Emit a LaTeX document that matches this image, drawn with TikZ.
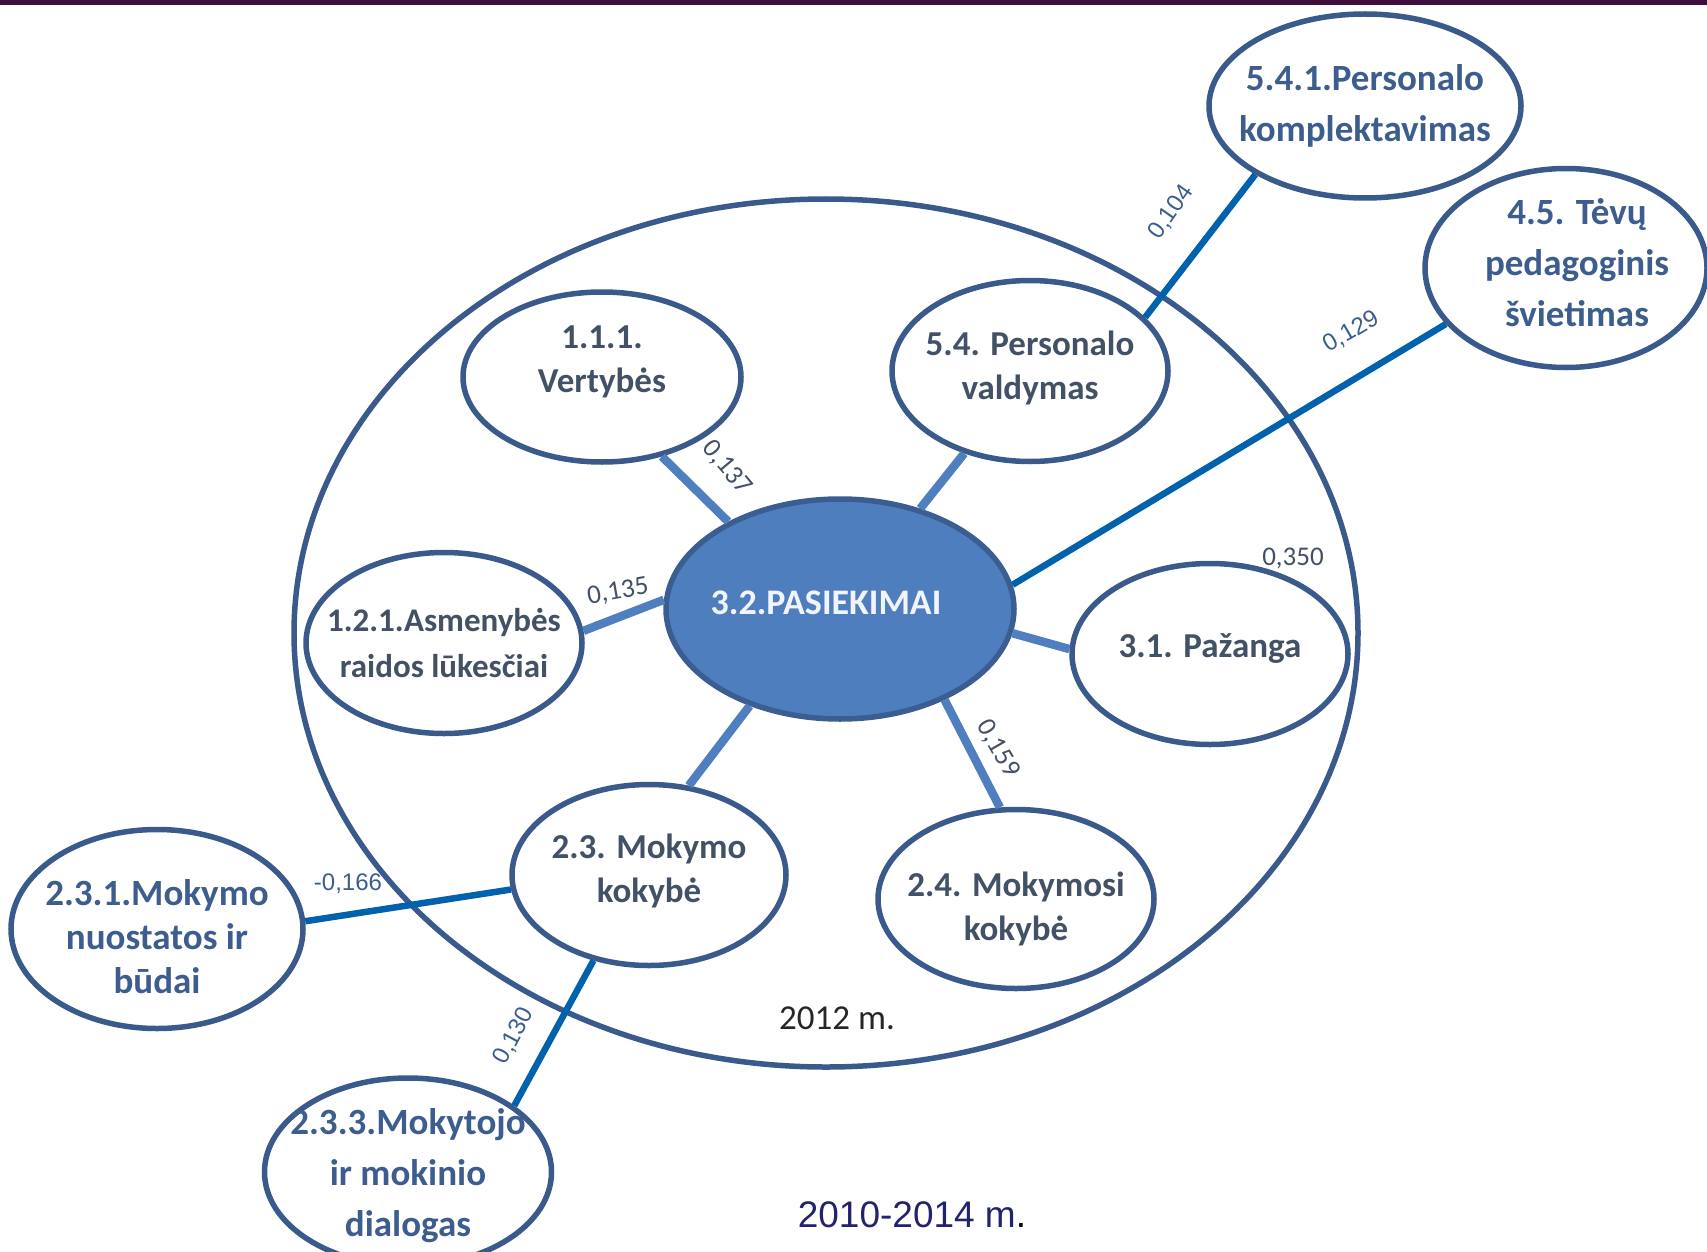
\documentclass[tikz,border=0pt]{standalone}
\usepackage{fontspec}
\setmainfont{Carlito}
\newfontfamily\arialfont{Liberation Sans}
\definecolor{KSborder}{HTML}{3A5A8C}
\definecolor{KSfill}{HTML}{4F7EBE}
\definecolor{KSedge}{HTML}{3B5E92}
\definecolor{KSline}{HTML}{4F7FBF}
\definecolor{KSlink}{HTML}{0062AC}
\definecolor{KSgray}{HTML}{435166}
\definecolor{KSblue}{HTML}{3C5D8E}
\definecolor{KSnavy}{HTML}{22226E}
\definecolor{KSband}{HTML}{3E0D3B}
\usetikzlibrary{shapes.geometric}

\begin{document}
\begin{tikzpicture}[x=1pt,y=-1pt,
  inner/.style={ellipse,draw=KSborder,line width=5.5pt,inner sep=0pt},
  innertext/.style={text=KSgray,font=\bfseries\fontsize{35}{44}\selectfont,align=center},
  outer/.style={ellipse,draw=KSborder,line width=5.5pt,inner sep=0pt},
  outertext/.style={text=KSblue,font=\bfseries\fontsize{37}{51}\selectfont,align=center},
  hub/.style={ellipse,draw=KSedge,fill=KSfill,line width=5.5pt,inner sep=0pt},
  hubtext/.style={text=white!92!KSfill,font=\bfseries\fontsize{36}{44}\selectfont},
  innerlink/.style={KSline,line width=8.5pt},
  outerlink/.style={KSlink,line width=6.5pt},
  val/.style={text=KSgray,font=\fontsize{27}{30}\selectfont,inner sep=0pt},
  valar/.style={text=KSblue,font=\arialfont\fontsize{24}{27}\selectfont,inner sep=0pt}]
  \useasboundingbox (0,0) rectangle (1707,1252);
  \fill[KSband] (0,0) rectangle (1707,5);
  % 2012 frame
  \draw[KSborder,line width=5.5pt] (826,633) ellipse [x radius=532,y radius=434];

  \node[hub,minimum width=348,minimum height=220,label={[hubtext,xshift=-14pt,yshift=6pt]center:3.2.PASIEKIMAI}] (ctr) at (840,609) {};
  \node[inner,minimum width=278,minimum height=170,label={[innertext,yshift=15pt]center:{1.1.1.\\Vertybės}}] (vert) at (602,377) {};
  \node[inner,minimum width=276,minimum height=181,label={[innertext,yshift=3pt]center:{5.4. Personalo\\valdymas}}] (valdym) at (1030,371) {};
  \node[inner,minimum width=276,minimum height=181,label={[innertext,font=\bfseries\fontsize{33}{46}\selectfont]center:{1.2.1.Asmenybės\\raidos lūkesčiai}}] (asmen) at (444,643) {};
  \node[inner,minimum width=276,minimum height=181,label={[innertext,yshift=5pt]center:3.1. Pažanga}] (pazan) at (1210,654) {};
  \node[inner,minimum width=274,minimum height=181,label={[innertext,yshift=4pt]center:{2.3. Mokymo\\kokybė}}] (mokkok) at (649,875) {};
  \node[inner,minimum width=276,minimum height=179,label={[innertext,yshift=-10pt]center:{2.4. Mokymosi\\kokybė}}] (mokosi) at (1016,899) {};

  \node[outer,minimum width=312,minimum height=184,label={[outertext]center:{5.4.1.Personalo\\komplektavimas}}] (kompl) at (1365,106) {};
  \node[outer,minimum width=282,minimum height=199,label={[outertext,xshift=11pt,yshift=5pt]center:{4.5. Tėvų\\pedagoginis\\švietimas}}] (tevu) at (1566,268) {};
  \node[outer,minimum width=292,minimum height=199,label={[outertext,font=\bfseries\fontsize{37}{44}\selectfont,yshift=-8pt]center:{2.3.1.Mokymo\\nuostatos ir\\būdai}}] (budai) at (157,929) {};
  \node[outer,minimum width=287,minimum height=188,label={[outertext,yshift=-4pt]center:{2.3.3.Mokytojo\\ir mokinio\\dialogas}}] (dialog) at (408,1172) {};

  \draw[innerlink] (ctr.142) -- (vert.-53);
  \draw[innerlink] (ctr) -- (valdym);
  \draw[innerlink] (ctr.177) -- (asmen.5);
  \draw[innerlink] (ctr.-8) -- (pazan.178);
  \draw[innerlink] (ctr.227) -- (mokkok.66);
  \draw[innerlink] (ctr.-41) -- (mokosi.100);

  \draw[outerlink] (valdym.25) -- (kompl.212);
  \draw[outerlink] (ctr.8) -- (tevu.205);
  \draw[outerlink] (mokkok.186) -- (budai.3);
  \draw[outerlink] (mokkok.237) -- (dialog.32);

  \node[val,rotate=-50] (v137) at (727,468) {0,137};
  \node[val,rotate=10] (v135) at (618,592) {0,135};
  \node[val] (v350) at (1293,558) {0,350};
  \node[val,rotate=-60] (v159) at (998,749) {0,159};
  \node[valar,rotate=55] (v104) at (1171,212) {0,104};
  \node[valar,rotate=30] (v129) at (1351,332) {0,129};
  \node[valar] (v166) at (348,884) {-0,166};
  \node[valar,rotate=62] (v130) at (514,1036) {0,130};

  \node[text=black!85,font=\fontsize{35}{40}\selectfont] (yr) at (837,1018) {2012 m.};
  \node[text=KSnavy,font=\arialfont\fontsize{37}{42}\selectfont] (span) at (912,1215) {2010-2014 m\textcolor{black}{.}};
\end{tikzpicture}
\end{document}
